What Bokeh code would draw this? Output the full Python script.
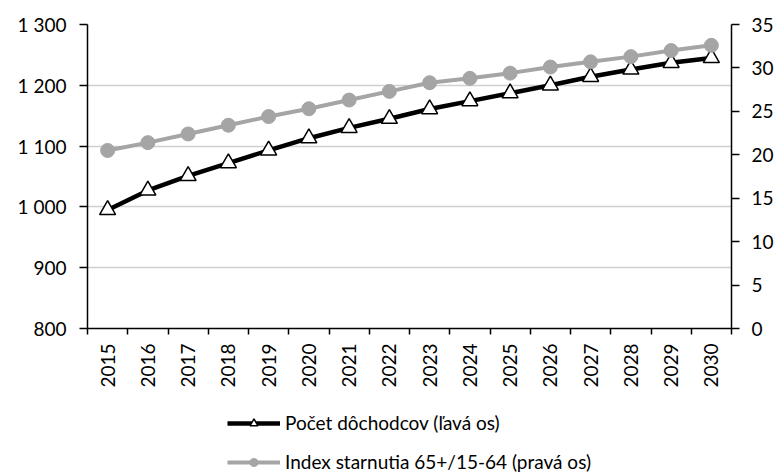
import math
from bokeh.plotting import figure
from bokeh.layouts import column
from bokeh.models import (Range1d, LinearAxis, FixedTicker, Legend, LegendItem)
from bokeh.embed import file_html
from bokeh.resources import INLINE

# ---- data ----
years = ["2015", "2016", "2017", "2018", "2019", "2020", "2021", "2022",
         "2023", "2024", "2025", "2026", "2027", "2028", "2029", "2030"]
pensioners = [995, 1027, 1051, 1072, 1093, 1113, 1130, 1145,
              1161, 1174, 1187, 1200, 1214, 1226, 1237, 1245]
aging_index = [20.5, 21.4, 22.4, 23.4, 24.4, 25.3, 26.3, 27.3,
               28.3, 28.8, 29.4, 30.1, 30.7, 31.3, 32.0, 32.6]
left_ticks = [800, 900, 1000, 1100, 1200, 1300]
right_ticks = [0, 5, 10, 15, 20, 25, 30, 35]
label_left = "Počet dôchodcov (ľavá os)"
label_right = "Index starnutia 65+/15-64 (pravá os)"

FONT = "Lato"
FS = "19px"
BLACK_STYLE = dict(line_color="black", line_width=4.5)
GREY = "#A5A5A5"

n = len(years)
centers = [i + 0.5 for i in range(n)]      # category centre positions
bounds = list(range(n + 1))                 # category boundaries (tick marks)

p = figure(width=779, height=395,
           x_range=Range1d(0, n),
           y_range=Range1d(left_ticks[0], left_ticks[-1]),
           output_backend="svg", toolbar_location=None,
           min_border_left=87, min_border_right=48,
           min_border_top=24, min_border_bottom=67)
p.outline_line_color = None
p.background_fill_color = "white"

# left axis
la = p.left[0]
la.ticker = FixedTicker(ticks=left_ticks)
la.major_label_overrides = {v: f"{v:,}".replace(",", " ") for v in left_ticks}
la.major_tick_in = 0
la.major_tick_out = 8
la.minor_tick_line_color = None
la.axis_line_width = 1.5
la.major_tick_line_width = 1.5
la.major_label_standoff = 13
la.major_label_text_font = FONT
la.major_label_text_font_size = FS
la.major_label_text_color = "black"

p.ygrid.ticker = FixedTicker(ticks=left_ticks)
p.ygrid.grid_line_color = "#D0D0D0"
p.ygrid.grid_line_width = 1.5
p.xgrid.visible = False

# right axis
p.extra_y_ranges = {"right": Range1d(right_ticks[0], right_ticks[-1])}
ra = LinearAxis(y_range_name="right", ticker=FixedTicker(ticks=right_ticks))
ra.major_tick_in = 0
ra.major_tick_out = 8
ra.minor_tick_line_color = None
ra.axis_line_width = 1.5
ra.major_tick_line_width = 1.5
ra.major_label_standoff = 12
ra.major_label_text_font = FONT
ra.major_label_text_font_size = FS
ra.major_label_text_color = "black"
p.add_layout(ra, "right")

# bottom axis: labels at category centres, ticks at category boundaries
xa = p.below[0]
xa.ticker = FixedTicker(ticks=centers, minor_ticks=bounds)
xa.major_label_overrides = {c: y for c, y in zip(centers, years)}
xa.major_tick_line_color = None
xa.major_tick_out = 6
xa.major_tick_in = 0
xa.minor_tick_in = 0
xa.minor_tick_out = 6
xa.minor_tick_line_width = 1.5
xa.minor_tick_line_color = "black"
xa.axis_line_width = 1.5
xa.major_label_orientation = math.pi / 2
xa.major_label_standoff = 9
xa.major_label_text_font = FONT
xa.major_label_text_font_size = FS
xa.major_label_text_color = "black"

# series
p.line(x=centers, y=pensioners, **BLACK_STYLE)
p.scatter(x=centers, y=pensioners, marker="triangle", size=16,
          fill_color="white", line_color="black", line_width=1.5)
p.line(x=centers, y=aging_index, y_range_name="right",
       line_color=GREY, line_width=4)
p.scatter(x=centers, y=aging_index, y_range_name="right", marker="circle",
          size=14, fill_color=GREY, line_color=GREY)

# ---- legend strip below the chart ----
# same series drawn here outside the visible range, only to feed the legend swatches
lg = figure(width=779, height=78, x_range=Range1d(0, n), y_range=Range1d(0, 1),
            output_backend="svg", toolbar_location=None,
            x_axis_location=None, y_axis_location=None,
            min_border_left=0, min_border_right=0,
            min_border_top=0, min_border_bottom=0)
lg.outline_line_color = None
lg.xgrid.visible = False
lg.ygrid.visible = False
k1 = lg.line(x=centers, y=pensioners, **BLACK_STYLE)
m1 = lg.scatter(x=centers, y=pensioners, marker="triangle", fill_color="white",
                line_color="black", line_width=1.5)
k2 = lg.line(x=centers, y=aging_index, line_color=GREY, line_width=4)
m2 = lg.scatter(x=centers, y=aging_index, marker="circle",
                fill_color=GREY, line_color=GREY)

legend = Legend(items=[LegendItem(label=label_left, renderers=[k1, m1]),
                       LegendItem(label=label_right, renderers=[k2, m2])],
                location="top_center", orientation="vertical",
                glyph_width=53, glyph_height=20, label_height=20, spacing=16,
                padding=0, margin=16, border_line_color=None,
                background_fill_alpha=0, label_standoff=5,
                label_text_font=FONT, label_text_font_size=FS,
                label_text_color="black")
lg.add_layout(legend, "center")

layout = column(p, lg, spacing=0)
open("out.html", "w").write(file_html(layout, INLINE))
